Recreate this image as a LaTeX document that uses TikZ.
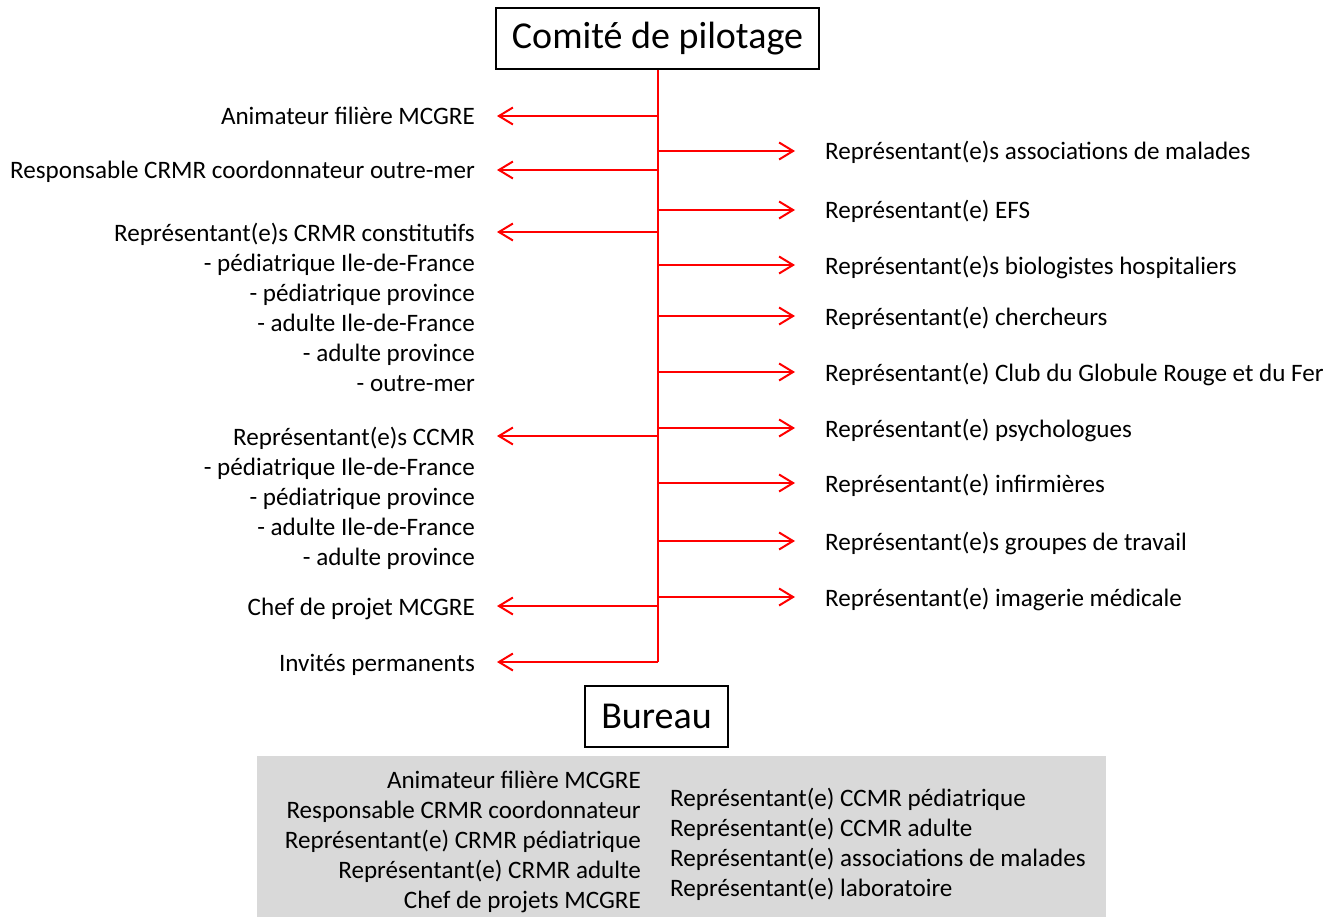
\documentclass[tikz,border=0pt]{standalone}
\usepackage{fontspec}
\setmainfont{Carlito}
\usetikzlibrary{arrows.meta}
\definecolor{gris}{RGB}{217,217,217}
\tikzset{
  lien/.style={red, line width=2pt, -{Straight Barb[length=14pt,width=17pt,line width=2pt]}},
  titre/.style={draw, line width=2pt, font=\fontsize{38}{44}\selectfont, inner sep=0pt},
  gauche/.style={anchor=base east, inner sep=0pt, font=\fontsize{25.1}{30}\selectfont},
  droite/.style={anchor=base west, inner sep=0pt, font=\fontsize{25.1}{30}\selectfont}
}

\begin{document}
\begin{tikzpicture}[x=1pt, y=-1pt]
  \useasboundingbox (0,0) rectangle (1340,917);
  \node [titre, minimum width=323pt, minimum height=61pt] (comite) at (657.5,38.5) {Comité de pilotage};
  \coordinate (bas) at (657.5,662);
  \draw [red, line width=2pt] (comite.south) -- (bas);

  \node [gauche] (animateur) at (475,125) {Animateur filière MCGRE};
  \node [gauche] (responsable) at (475,179) {Responsable CRMR coordonnateur outre-mer};
  \node [gauche] (crmr) at (475,241) {Représentant(e)s CRMR constitutifs};
  \foreach \t [count=\i] in {- pédiatrique Ile-de-France, - pédiatrique province,
    - adulte Ile-de-France, - adulte province, - outre-mer}
    \node [gauche] (crmr\i) at (475,{241+30*\i}) {\t};
  \node [gauche] (ccmr) at (475,445) {Représentant(e)s CCMR};
  \foreach \t [count=\i] in {- pédiatrique Ile-de-France, - pédiatrique province,
    - adulte Ile-de-France, - adulte province}
    \node [gauche] (ccmr\i) at (475,{445+30*\i}) {\t};
  \node [gauche] (chef) at (475,615) {Chef de projet MCGRE};
  \node [gauche] (invites) at (475,671) {Invités permanents};
  \foreach \n/\y in {animateur/116, responsable/170, crmr/232, ccmr/436, chef/606}
    \draw [lien] (comite.south |- 0,\y) -- ([xshift=22pt]\n.base east |- 0,\y);
  \draw [lien] (bas) -- ([xshift=22pt]invites.base east |- bas);

  \foreach \y/\t [count=\i] in {151/Représentant(e)s associations de malades,
    210/Représentant(e) EFS, 265/Représentant(e)s biologistes hospitaliers,
    316/Représentant(e) chercheurs, 372/Représentant(e) Club du Globule Rouge et du Fer,
    428/Représentant(e) psychologues, 483/Représentant(e) infirmières,
    541/Représentant(e)s groupes de travail, 597/Représentant(e) imagerie médicale} {
    \node [droite] (rep\i) at (825,\y+9) {\t};
    \draw [lien] (comite.south |- 0,\y) -- ([xshift=-30pt]rep\i.base west |- 0,\y);
  }

  \node [titre, minimum width=143pt, minimum height=61pt] (bureau) at (656.5,716.5) {Bureau};
  \fill [gris] (257,756) rectangle (1106,917);
  \foreach \t [count=\i] in {Animateur filière MCGRE, Responsable CRMR coordonnateur,
    Représentant(e) CRMR pédiatrique, Représentant(e) CRMR adulte, Chef de projets MCGRE}
    \node [gauche] (membre\i) at (641,{758+30*\i}) {\t};
  \foreach \t [count=\i] in {Représentant(e) CCMR pédiatrique, Représentant(e) CCMR adulte,
    Représentant(e) associations de malades, Représentant(e) laboratoire}
    \node [droite] (membrebis\i) at (670,{776+30*\i}) {\t};
\end{tikzpicture}
\end{document}
